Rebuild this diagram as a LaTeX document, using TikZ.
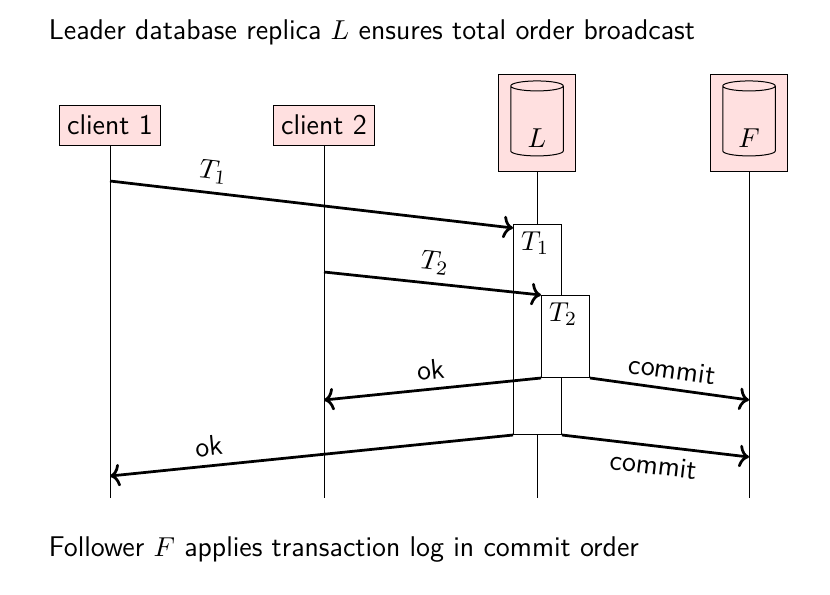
\documentclass[tikz,border=0pt]{standalone}
\usepackage{tikz}
\usetikzlibrary{shapes.geometric,arrows.meta}
\begin{document}
\begin{tikzpicture}[x=0.4pt,y=-0.4pt,font=\fontsize{11.4}{13}\sffamily]
  \tikzset{ActorStyle/.style = {
    shape         = rectangle,
    draw          = black,
    fill          = red!12,
    inner sep     = 3pt,
    minimum height= 16pt
    }
  }
  \tikzset{MsgStyle/.style = {
    draw          = black,
    line width    = 1.1pt,
    -{To[length=4pt,width=9pt]}
    }
  }
  \tikzset{LifeStyle/.style = {draw = black, thin}}
  \useasboundingbox (0,0) rectangle (830,594);

	\node[anchor=west](title) at (40,32) {Leader database replica $L$ ensures total order broadcast};
	\node[anchor=west](foot) at (40,550) {Follower $F$ applies transaction log in commit order};

	\node[ActorStyle](C1) at (110,125) {client 1};
	\node[ActorStyle](C2) at (324,125) {client 2};
	\node[ActorStyle, minimum width=31pt, minimum height=39pt](L) at (537,123) {};
	\node[ActorStyle, minimum width=31pt, minimum height=39pt](F) at (749,123) {};
	\node[draw, cylinder, shape border rotate=90, aspect=0.6, minimum width=21pt, minimum height=30pt, fill=red!12](Ldb) at (537,123) {};
	\node at (537,138) {$L$};
	\node[draw, cylinder, shape border rotate=90, aspect=0.6, minimum width=21pt, minimum height=30pt, fill=red!12](Fdb) at (749,123) {};
	\node at (749,138) {$F$};

	\coordinate (C1e) at (110,498);
	\coordinate (C2e) at (324,498);
	\coordinate (Le) at (537,498);
	\coordinate (Fe) at (749,498);
	\draw[LifeStyle](C1) -- (C1e);
	\draw[LifeStyle](C2) -- (C2e);
	\draw[LifeStyle](L) -- (Le);
	\draw[LifeStyle](F) -- (Fe);

	% activation boxes
	\node[draw, fill=white, anchor=north west, minimum width=19.2pt, minimum height=84pt, inner sep=0pt](A1) at (513,224) {};
	\node[anchor=north west, inner sep=3pt] at (A1.north west) {$T_1$};
	\node[draw, fill=white, anchor=north west, minimum width=19.2pt, minimum height=32.8pt, inner sep=0pt](A2) at (541,295) {};
	\node[anchor=north west, inner sep=3pt] at (A2.north west) {$T_2$};

	\coordinate (s1) at (110,181);
	\coordinate (t1) at (513,228);
	\coordinate (s2) at (324,272);
	\coordinate (t2) at (541,295);
	\coordinate (ok1) at (324,400);
	\coordinate (cm1) at (749,400);
	\coordinate (ok2) at (110,476);
	\coordinate (cm2) at (749,457);
	\draw[MsgStyle](s1) -- node[pos=0.25, above, sloped]{$T_1$} (t1);
	\draw[MsgStyle](s2) -- node[above, sloped]{$T_2$} (t2);
	\draw[MsgStyle](A2.south west) -- node[above, sloped]{ok} (ok1);
	\draw[MsgStyle](A2.south east) -- node[above, sloped]{commit} (cm1);
	\draw[MsgStyle](A1.south west) -- node[pos=0.75, above, sloped]{ok} (ok2);
	\draw[MsgStyle](A1.south east) -- node[pos=0.5, below, sloped]{commit} (cm2);

\end{tikzpicture}
\end{document}
